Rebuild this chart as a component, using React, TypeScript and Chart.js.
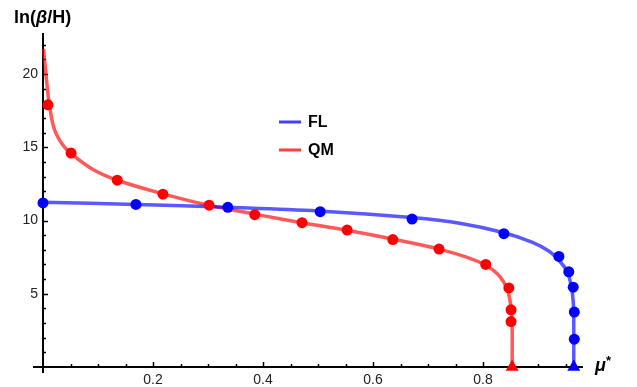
import React, { useEffect, useRef } from "react";
import { Chart, registerables } from "chart.js";

Chart.register(...registerables);

// QM (red) fitted curve
const qmCurveX = [0.001, 0.004, 0.008, 0.012, 0.02, 0.035, 0.05, 0.09, 0.135, 0.22, 0.30, 0.39, 0.47, 0.55, 0.64, 0.72, 0.77, 0.805, 0.83, 0.845, 0.851, 0.853, 0.853];
const qmCurveY = [21.7, 20.5, 19.0, 17.8, 16.3, 15.2, 14.6, 13.5, 12.75, 11.8, 11.05, 10.4, 9.85, 9.35, 8.7, 8.05, 7.5, 6.95, 6.2, 5.2, 4.0, 2.5, 0];
// QM data points
const qmPointX = [0.009, 0.051, 0.135, 0.218, 0.302, 0.385, 0.471, 0.553, 0.636, 0.72, 0.805, 0.847, 0.851, 0.851];
const qmPointY = [17.9, 14.6, 12.75, 11.8, 11.05, 10.4, 9.85, 9.35, 8.7, 8.05, 7.0, 5.4, 3.9, 3.1];
const qmEndX = [0.853];
const qmEndY = [0];

// FL (blue) fitted curve
const flCurveX = [0, 0.17, 0.336, 0.5, 0.67, 0.76, 0.84, 0.89, 0.92, 0.94, 0.953, 0.96, 0.964, 0.965, 0.965];
const flCurveY = [11.25, 11.1, 10.9, 10.65, 10.2, 9.8, 9.15, 8.5, 7.9, 7.2, 6.5, 5.6, 4.5, 3.0, 0];
// FL data points
const flPointX = [0, 0.169, 0.336, 0.504, 0.671, 0.838, 0.938, 0.956, 0.964, 0.966, 0.966];
const flPointY = [11.2, 11.1, 10.9, 10.6, 10.1, 9.1, 7.55, 6.5, 5.45, 3.75, 1.9];
const flEndX = [0.965];
const flEndY = [0];

const xMajorTicks = [0.2, 0.4, 0.6, 0.8];
const xTickLabels = ["0.2", "0.4", "0.6", "0.8"];
const yMajorTicks = [5, 10, 15, 20];
const yTickLabels = ["5", "10", "15", "20"];
const xMinorStep = 0.05;
const yMinorStep = 1;

const legendLabels = ["FL", "QM"];

const pts = (xs: number[], ys: number[]) => xs.map((x, i) => ({ x, y: ys[i] }));

const FONT = "'Liberation Sans', Arial, sans-serif";

const axesPlugin = {
  id: "mmaAxes",
  beforeDatasetsDraw(chart: any) {
    const { ctx, scales } = chart;
    const xs = scales.x;
    const ys = scales.y;
    const x0 = xs.getPixelForValue(0);
    const y0 = ys.getPixelForValue(0);
    const xEnd = xs.getPixelForValue(xs.max);
    const yTop = ys.getPixelForValue(ys.max);
    ctx.save();
    ctx.strokeStyle = "#000";
    ctx.lineWidth = 2;
    ctx.beginPath();
    ctx.moveTo(x0 - 10, y0);
    ctx.lineTo(xEnd + 1, y0);
    ctx.moveTo(x0, y0 + 6);
    ctx.lineTo(x0, yTop);
    ctx.stroke();
    ctx.lineWidth = 1.5;
    for (let v = xMinorStep; v < xs.max; v += xMinorStep) {
      const p = Math.round(xs.getPixelForValue(v)) + 0.5;
      const major = xMajorTicks.some((m) => Math.abs(m - v) < 1e-6);
      ctx.beginPath();
      ctx.moveTo(p, y0);
      ctx.lineTo(p, y0 - (major ? 5 : 3));
      ctx.stroke();
    }
    for (let v = yMinorStep; v < ys.max; v += yMinorStep) {
      const p = Math.round(ys.getPixelForValue(v)) + 0.5;
      const major = yMajorTicks.some((m) => Math.abs(m - v) < 1e-6);
      ctx.beginPath();
      ctx.moveTo(x0, p);
      ctx.lineTo(x0 + (major ? 5 : 3), p);
      ctx.stroke();
    }
    ctx.fillStyle = "#222";
    ctx.font = `14px ${FONT}`;
    ctx.textAlign = "center";
    ctx.textBaseline = "middle";
    xMajorTicks.forEach((v, i) => {
      ctx.fillText(xTickLabels[i], xs.getPixelForValue(v), y0 + 13);
    });
    ctx.textAlign = "right";
    yMajorTicks.forEach((v, i) => {
      ctx.fillText(yTickLabels[i], x0 - 5, ys.getPixelForValue(v));
    });
    ctx.restore();
  },
  afterDraw(chart: any) {
    const { ctx } = chart;
    ctx.save();
    ctx.fillStyle = "#000";
    ctx.textBaseline = "alphabetic";
    ctx.textAlign = "left";
    ctx.font = `bold 18px ${FONT}`;
    let x = 14;
    const base = 23;
    ctx.fillText("ln(", x, base);
    x += ctx.measureText("ln(").width;
    ctx.font = `italic bold 18px ${FONT}`;
    ctx.fillText("β", x, base);
    x += ctx.measureText("β").width;
    ctx.font = `bold 18px ${FONT}`;
    ctx.fillText("/H)", x, base);
    ctx.font = `italic bold 18px ${FONT}`;
    ctx.fillText("μ", 595, 371);
    ctx.font = `bold 13px ${FONT}`;
    ctx.fillText("*", 606, 365);
    const colors = ["rgba(0,0,255,0.75)", "rgba(255,0,0,0.75)"];
    const ly = [122, 150];
    legendLabels.forEach((lab, i) => {
      ctx.strokeStyle = colors[i];
      ctx.lineWidth = 3;
      ctx.beginPath();
      ctx.moveTo(279, ly[i]);
      ctx.lineTo(301, ly[i]);
      ctx.stroke();
      ctx.fillStyle = "#000";
      ctx.font = `bold 16px ${FONT}`;
      ctx.textBaseline = "middle";
      ctx.fillText(lab, 308, ly[i] + 1);
    });
    ctx.restore();
  },
};

export default function App() {
  const ref = useRef<HTMLCanvasElement>(null);
  useEffect(() => {
    if (!ref.current) return;
    const lineRed = "rgba(255,0,0,0.65)";
    const lineBlue = "rgba(0,0,255,0.65)";
    const chart = new Chart(ref.current, {
      type: "scatter",
      data: {
        datasets: [
          {
            label: "QM curve",
            data: pts(qmCurveX, qmCurveY),
            showLine: true,
            borderColor: lineRed,
            borderWidth: 3.5,
            pointRadius: 0,
            tension: 0.35,
            clip: false,
            order: 5,
          } as any,
          {
            label: "FL curve",
            data: pts(flCurveX, flCurveY),
            showLine: true,
            borderColor: lineBlue,
            borderWidth: 3.5,
            pointRadius: 0,
            tension: 0.35,
            clip: false,
            order: 4,
          },
          {
            label: "QM",
            data: pts(qmPointX, qmPointY),
            backgroundColor: "#ff0000",
            pointRadius: 5.5,
            pointBorderWidth: 0,
            clip: false,
            order: 3,
          },
          {
            label: "FL",
            data: pts(flPointX, flPointY),
            backgroundColor: "#0000ff",
            pointRadius: 5.5,
            pointBorderWidth: 0,
            clip: false,
            order: 2,
          },
          {
            label: "QM end",
            data: pts(qmEndX, qmEndY),
            backgroundColor: "#ff0000",
            pointStyle: "triangle",
            pointRadius: 7.5,
            pointBorderWidth: 0,
            clip: false,
            order: 1,
          },
          {
            label: "FL end",
            data: pts(flEndX, flEndY),
            backgroundColor: "#0000ff",
            pointStyle: "triangle",
            pointRadius: 7.5,
            pointBorderWidth: 0,
            clip: false,
            order: 0,
          },
        ],
      },
      options: {
        animation: false,
        responsive: false,
        maintainAspectRatio: false,
        layout: { padding: { left: 43, right: 55, top: 33, bottom: 20 } },
        plugins: { legend: { display: false }, tooltip: { enabled: false } },
        scales: {
          x: { type: "linear", min: 0, max: 0.98, display: false },
          y: { type: "linear", min: 0, max: 22.8, display: false },
        },
      },
      plugins: [axesPlugin],
    });
    return () => chart.destroy();
  }, []);
  return (
    <div style={{ position: "absolute", left: 0, top: 0, width: 637, height: 387, background: "#fff" }}>
      <canvas ref={ref} width={637} height={387} style={{ display: "block", width: 637, height: 387 }} />
    </div>
  );
}
